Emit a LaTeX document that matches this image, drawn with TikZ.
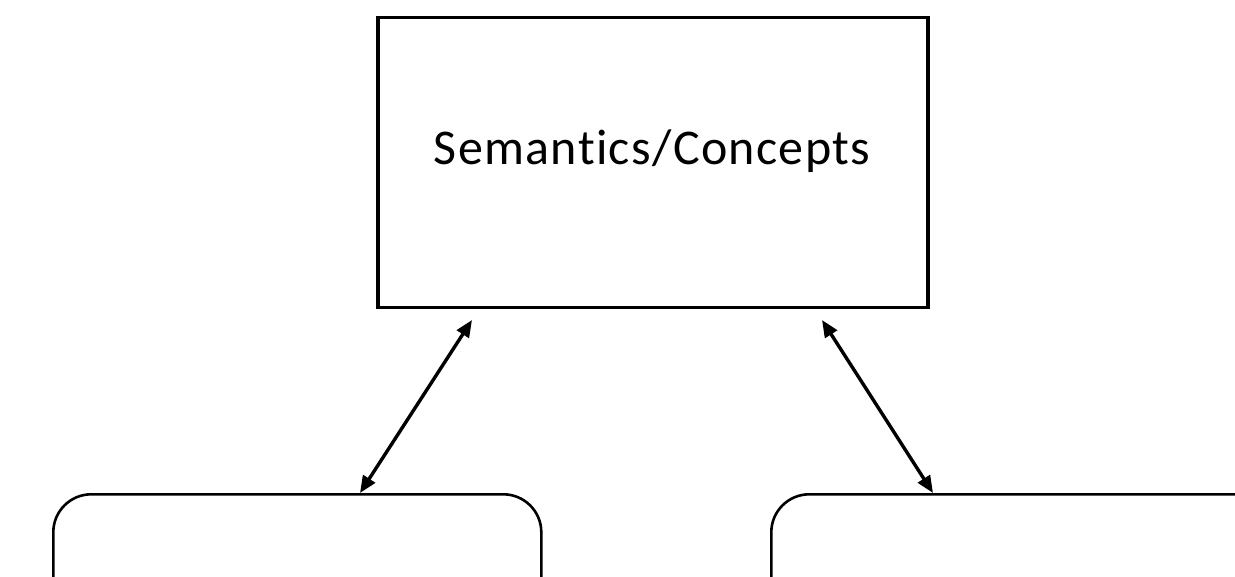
\documentclass[tikz,border=0pt]{standalone}
\usepackage{fontspec}
\setmainfont{Carlito}[Ligatures=NoCommon]
\newfontfamily\labelfont{Carlito}[Ligatures=NoCommon,LetterSpace=2.7]
\usetikzlibrary{arrows.meta}
\begin{document}
\begin{tikzpicture}[x=1pt,y=-1pt,
  concept/.style={draw=black,line width=3.5pt,inner sep=0pt,anchor=north west},
  panel/.style={draw=black,line width=2.6pt,rounded corners=38pt,inner sep=0pt,anchor=north west},
  link/.style={line width=3.4pt,{Triangle[length=17pt,width=14pt]}-{Triangle[length=17pt,width=14pt]}}]
  \useasboundingbox (0,0) rectangle (1235,577);
  \clip (0,0) rectangle (1235,577);
  % top concept box
  \node[concept,minimum width=550pt,minimum height=290pt] (sem) at (376,16) {};
  \node[font=\labelfont\fontsize{50}{54}\selectfont,anchor=base,inner sep=0pt] (semlabel) at (652,165) {Semantics/Concepts};
  % two lower panels, cut by the page edge
  \node[panel,minimum width=488pt,minimum height=300pt] (left) at (52,493) {};
  \node[panel,minimum width=501pt,minimum height=300pt] (right) at (770,493) {};
  % arrow end points
  \coordinate (la) at (472,320);
  \coordinate (ra) at (822,320);
  \coordinate (lb) at ([xshift=308pt]left.north west);
  \coordinate (rb) at ([xshift=163pt]right.north west);
  \draw[link] (la) -- (lb);
  \draw[link] (ra) -- (rb);
\end{tikzpicture}
\end{document}
